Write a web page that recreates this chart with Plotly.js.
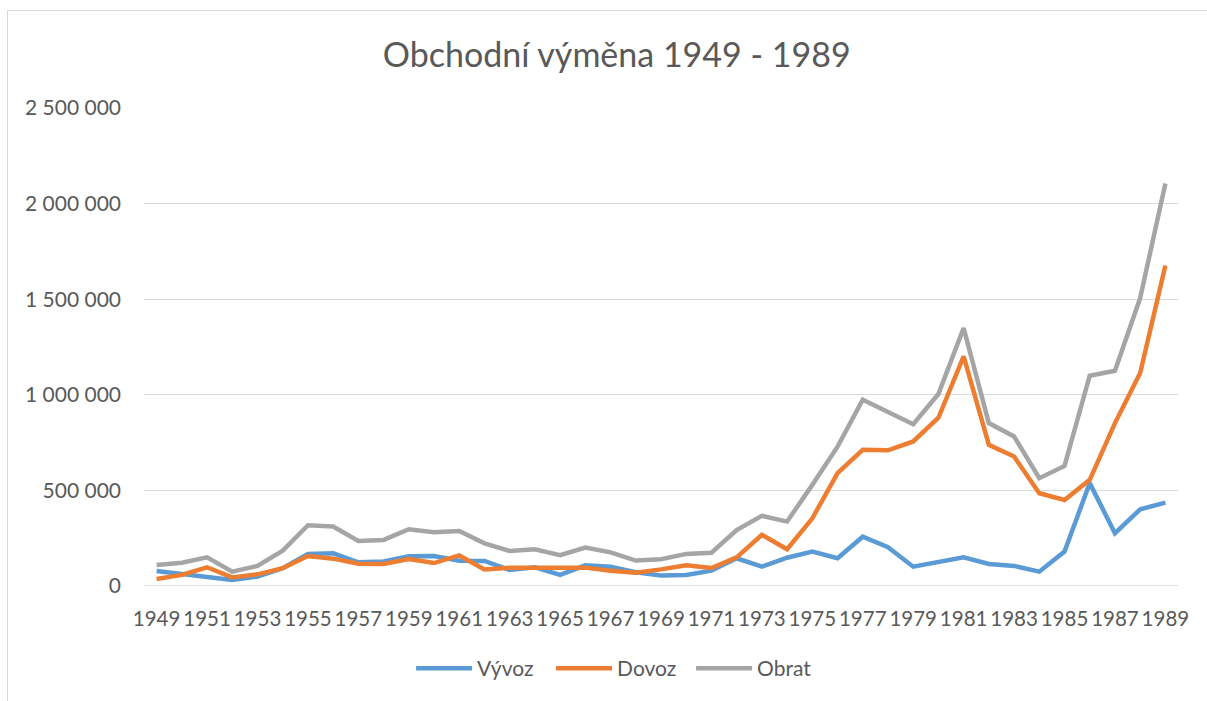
<!DOCTYPE html>
<html><head><meta charset="utf-8">
<script src="https://cdn.plot.ly/plotly-3.0.1.min.js"></script>
<style>
html,body{margin:0;padding:0;background:#fff;overflow:hidden;}
#chart{width:1207px;height:701px;position:absolute;left:0;top:0;}
#frame{position:absolute;left:7px;top:10px;width:1200px;height:690px;border-top:1px solid #d9d9d9;border-left:1px solid #d9d9d9;pointer-events:none;}
</style></head>
<body>
<div id="chart"></div>
<div id="frame"></div>
<script>
const years = [1949,1950,1951,1952,1953,1954,1955,1956,1957,1958,1959,1960,1961,1962,1963,1964,1965,1966,1967,1968,1969,1970,1971,1972,1973,1974,1975,1976,1977,1978,1979,1980,1981,1982,1983,1984,1985,1986,1987,1988,1989];
const vyvoz = [78000,63000,49000,31000,49000,93000,168000,171000,124000,128000,155000,157000,132000,131000,84000,98000,58000,108000,101000,72000,55000,58000,80000,145000,101000,148000,180000,145000,258000,203000,101000,127000,150000,115000,105000,75000,180000,538000,276000,401000,436000];
const dovoz = [37000,58000,98000,45000,61000,93000,157000,143000,117000,115000,141000,120000,160000,87000,96000,96000,101000,96000,80000,70000,87000,108000,94000,150000,268000,192000,354000,590000,712000,710000,756000,880000,1201000,738000,677000,485000,450000,555000,852000,1114000,1676000];
const obrat = [110000,122000,150000,75000,105000,185000,318000,311000,236000,241000,297000,281000,288000,223000,183000,192000,161000,201000,176000,133000,140000,168000,174000,293000,367000,337000,529000,729000,974000,908000,846000,1004000,1349000,852000,782000,564000,628000,1100000,1126000,1506000,2105000];
const xTicks = [1949,1951,1953,1955,1957,1959,1961,1963,1965,1967,1969,1971,1973,1975,1977,1979,1981,1983,1985,1987,1989];
const yTicks = [0,500000,1000000,1500000,2000000,2500000];
const yTickText = ["0","500 000","1 000 000","1 500 000","2 000 000","2 500 000"];
const seriesNames = ["Vývoz","Dovoz","Obrat"];

const colors = ["#5b9bd5","#ed7d31","#a5a5a5"];
const data = [vyvoz,dovoz,obrat].map((v,i)=>({
  x: years, y: v, type:'scatter', mode:'lines', name: seriesNames[i],
  line:{color:colors[i], width:4.5, shape:'linear'}
}));
const font = "Lato, 'Open Sans', sans-serif";
const layout = {
  width:1207, height:701,
  margin:{l:144,r:29,t:108,b:115},
  paper_bgcolor:'rgba(0,0,0,0)', plot_bgcolor:'#fff',
  font:{family:font, color:'#595959', size:20},
  title:{text:'Obchodní výměna 1949 - 1989', x:0.511, xanchor:'center', y:0.921, yanchor:'middle', font:{family:font, size:34, color:'#595959'}},
  xaxis:{range:[1948.5,1989.5], tickvals:xTicks, ticktext:xTicks.map(String), tickangle:0, showgrid:false, zeroline:false, showline:false, ticks:'', ticklabelstandoff:18, tickfont:{size:20.5}, fixedrange:true},
  yaxis:{range:[0,2500000], tickvals:yTicks, ticktext:yTickText, showgrid:true, gridcolor:'#d9d9d9', gridwidth:1.3, zeroline:false, showline:false, ticks:'', ticklabelstandoff:22, tickfont:{size:21}, fixedrange:true},
  showlegend:true,
  legend:{orientation:'h', x:0.2583, xanchor:'left', y:-0.13, yanchor:'top', font:{size:21, color:'#595959'}, itemwidth:56, entrywidth:69, entrywidthmode:'pixels', traceorder:'normal'},
  shapes:[{type:'line', xref:'paper', yref:'y', x0:0, x1:1, y0:0, y1:0, line:{color:'#d9d9d9', width:1.3}, layer:'below'}]
};
Plotly.newPlot('chart', data, layout, {displayModeBar:false, staticPlot:true});
</script>
</body></html>
